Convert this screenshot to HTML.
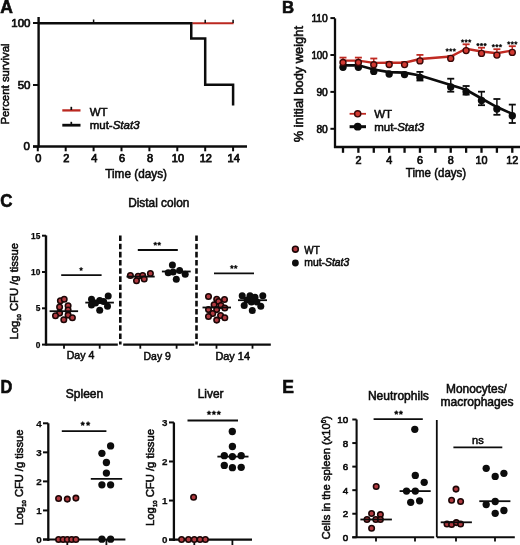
<!DOCTYPE html>
<html><head><meta charset="utf-8"><style>
html,body{margin:0;padding:0;background:#fff;}
body{width:520px;height:545px;overflow:hidden;}
svg{display:block;font-family:"Liberation Sans", sans-serif;will-change:transform;}
</style></head><body>
<svg width="520" height="545" viewBox="0 0 520 545">
<rect width="520" height="545" fill="#fff"/>
<text x="0.3" y="12.8" font-size="17.5" text-anchor="start" font-weight="bold" fill="#0c0c0c" stroke="#0c0c0c" stroke-width="0.6" >A</text>
<line x1="38.6" y1="17" x2="38.6" y2="147.5" stroke="#0c0c0c" stroke-width="2.4" />
<line x1="33" y1="23" x2="38.6" y2="23" stroke="#0c0c0c" stroke-width="2" />
<line x1="33" y1="85" x2="38.6" y2="85" stroke="#0c0c0c" stroke-width="2" />
<line x1="33" y1="146.5" x2="38.6" y2="146.5" stroke="#0c0c0c" stroke-width="2" />
<text x="30.5" y="27.2" font-size="11.5" text-anchor="end" font-weight="normal" fill="#0c0c0c" stroke="#0c0c0c" stroke-width="0.7" >100</text>
<text x="30.5" y="89" font-size="11.5" text-anchor="end" font-weight="normal" fill="#0c0c0c" stroke="#0c0c0c" stroke-width="0.7" >50</text>
<text x="30" y="150.3" font-size="11.5" text-anchor="end" font-weight="normal" fill="#0c0c0c" stroke="#0c0c0c" stroke-width="0.7" >0</text>
<line x1="33" y1="146.5" x2="247" y2="146.5" stroke="#0c0c0c" stroke-width="2.4" />
<line x1="37.8" y1="146.5" x2="37.8" y2="151.3" stroke="#0c0c0c" stroke-width="2" />
<text x="38.4" y="161.6" font-size="11" text-anchor="middle" font-weight="normal" fill="#0c0c0c" stroke="#0c0c0c" stroke-width="0.75" >0</text>
<line x1="65.69999999999999" y1="146.5" x2="65.69999999999999" y2="151.3" stroke="#0c0c0c" stroke-width="2" />
<text x="66.29999999999998" y="161.6" font-size="11" text-anchor="middle" font-weight="normal" fill="#0c0c0c" stroke="#0c0c0c" stroke-width="0.75" >2</text>
<line x1="93.6" y1="146.5" x2="93.6" y2="151.3" stroke="#0c0c0c" stroke-width="2" />
<text x="94.19999999999999" y="161.6" font-size="11" text-anchor="middle" font-weight="normal" fill="#0c0c0c" stroke="#0c0c0c" stroke-width="0.75" >4</text>
<line x1="121.49999999999999" y1="146.5" x2="121.49999999999999" y2="151.3" stroke="#0c0c0c" stroke-width="2" />
<text x="122.09999999999998" y="161.6" font-size="11" text-anchor="middle" font-weight="normal" fill="#0c0c0c" stroke="#0c0c0c" stroke-width="0.75" >6</text>
<line x1="149.39999999999998" y1="146.5" x2="149.39999999999998" y2="151.3" stroke="#0c0c0c" stroke-width="2" />
<text x="149.99999999999997" y="161.6" font-size="11" text-anchor="middle" font-weight="normal" fill="#0c0c0c" stroke="#0c0c0c" stroke-width="0.75" >8</text>
<line x1="177.3" y1="146.5" x2="177.3" y2="151.3" stroke="#0c0c0c" stroke-width="2" />
<text x="177.9" y="161.6" font-size="11" text-anchor="middle" font-weight="normal" fill="#0c0c0c" stroke="#0c0c0c" stroke-width="0.75" >10</text>
<line x1="205.2" y1="146.5" x2="205.2" y2="151.3" stroke="#0c0c0c" stroke-width="2" />
<text x="205.79999999999998" y="161.6" font-size="11" text-anchor="middle" font-weight="normal" fill="#0c0c0c" stroke="#0c0c0c" stroke-width="0.75" >12</text>
<line x1="233.09999999999997" y1="146.5" x2="233.09999999999997" y2="151.3" stroke="#0c0c0c" stroke-width="2" />
<text x="233.69999999999996" y="161.6" font-size="11" text-anchor="middle" font-weight="normal" fill="#0c0c0c" stroke="#0c0c0c" stroke-width="0.75" >14</text>
<text x="136.1" y="178.3" font-size="12" text-anchor="middle" font-weight="normal" fill="#0c0c0c" stroke="#0c0c0c" stroke-width="0.55" textLength="61.8" lengthAdjust="spacingAndGlyphs" >Time (days)</text>
<text transform="translate(8.7,84) rotate(-90)" x="0" y="0" font-size="11.3" text-anchor="middle" font-weight="normal" fill="#0c0c0c" stroke="#0c0c0c" stroke-width="0.55" textLength="81.2" lengthAdjust="spacingAndGlyphs">Percent survival</text>
<polyline points="38.6,23.2 191.25,23.2" fill="none" stroke="#0c0c0c" stroke-width="2.4" stroke-linejoin="miter" />
<polyline points="192.25,23.2 233.59999999999997,23.2" fill="none" stroke="#bb2820" stroke-width="2.1" stroke-linejoin="miter" />
<polyline points="191.25,21.9 191.25,38.4 205.2,38.4 205.2,84.8 233.09999999999997,84.8 233.09999999999997,105.5" fill="none" stroke="#0c0c0c" stroke-width="2.5" stroke-linejoin="miter" />
<line x1="93.6" y1="19.5" x2="93.6" y2="23" stroke="#0c0c0c" stroke-width="1.5" />
<line x1="205.2" y1="19.8" x2="205.2" y2="23" stroke="#0c0c0c" stroke-width="1.5" />
<line x1="233.09999999999997" y1="19.8" x2="233.09999999999997" y2="23" stroke="#0c0c0c" stroke-width="1.5" />
<line x1="62.3" y1="110.4" x2="80.5" y2="110.4" stroke="#bb2820" stroke-width="2.3" />
<line x1="71.3" y1="106.8" x2="71.3" y2="110" stroke="#0c0c0c" stroke-width="1.7" />
<line x1="62.3" y1="125.2" x2="80.5" y2="125.2" stroke="#0c0c0c" stroke-width="2.8" />
<line x1="71.3" y1="121.8" x2="71.3" y2="125" stroke="#0c0c0c" stroke-width="1.7" />
<text x="89.7" y="116.1" font-size="11.5" text-anchor="start" font-weight="normal" fill="#0c0c0c" stroke="#0c0c0c" stroke-width="0.55" >WT</text>
<text x="89.7" y="129.2" font-size="11.5" text-anchor="start" font-weight="normal" fill="#0c0c0c" stroke="#0c0c0c" stroke-width="0.55" >mut-<tspan font-style="italic">Stat3</tspan></text>
<text x="282" y="13.3" font-size="16.8" text-anchor="start" font-weight="bold" fill="#0c0c0c" stroke="#0c0c0c" stroke-width="0.6" >B</text>
<line x1="335" y1="18.4" x2="335" y2="148" stroke="#0c0c0c" stroke-width="2.3" />
<line x1="330.4" y1="18.1" x2="335" y2="18.1" stroke="#0c0c0c" stroke-width="2" />
<text x="327.8" y="21.900000000000002" font-size="10.7" text-anchor="end" font-weight="normal" fill="#0c0c0c" stroke="#0c0c0c" stroke-width="0.65" textLength="16.4" lengthAdjust="spacingAndGlyphs" >110</text>
<line x1="330.4" y1="55.0" x2="335" y2="55.0" stroke="#0c0c0c" stroke-width="2" />
<text x="327.8" y="58.8" font-size="10.7" text-anchor="end" font-weight="normal" fill="#0c0c0c" stroke="#0c0c0c" stroke-width="0.65" textLength="16.4" lengthAdjust="spacingAndGlyphs" >100</text>
<line x1="330.4" y1="91.9" x2="335" y2="91.9" stroke="#0c0c0c" stroke-width="2" />
<text x="327.8" y="95.7" font-size="10.7" text-anchor="end" font-weight="normal" fill="#0c0c0c" stroke="#0c0c0c" stroke-width="0.65" textLength="11.4" lengthAdjust="spacingAndGlyphs" >90</text>
<line x1="330.4" y1="128.8" x2="335" y2="128.8" stroke="#0c0c0c" stroke-width="2" />
<text x="327.8" y="132.60000000000002" font-size="10.7" text-anchor="end" font-weight="normal" fill="#0c0c0c" stroke="#0c0c0c" stroke-width="0.65" textLength="11.4" lengthAdjust="spacingAndGlyphs" >80</text>
<line x1="334" y1="147" x2="520" y2="147" stroke="#0c0c0c" stroke-width="2.3" />
<line x1="343.0" y1="147" x2="343.0" y2="152.8" stroke="#0c0c0c" stroke-width="2.3" />
<line x1="358.39" y1="147" x2="358.39" y2="152.8" stroke="#0c0c0c" stroke-width="2.3" />
<line x1="373.78" y1="147" x2="373.78" y2="152.8" stroke="#0c0c0c" stroke-width="2.3" />
<line x1="389.17" y1="147" x2="389.17" y2="152.8" stroke="#0c0c0c" stroke-width="2.3" />
<line x1="404.56" y1="147" x2="404.56" y2="152.8" stroke="#0c0c0c" stroke-width="2.3" />
<line x1="419.95" y1="147" x2="419.95" y2="152.8" stroke="#0c0c0c" stroke-width="2.3" />
<line x1="435.34000000000003" y1="147" x2="435.34000000000003" y2="152.8" stroke="#0c0c0c" stroke-width="2.3" />
<line x1="450.73" y1="147" x2="450.73" y2="152.8" stroke="#0c0c0c" stroke-width="2.3" />
<line x1="466.12" y1="147" x2="466.12" y2="152.8" stroke="#0c0c0c" stroke-width="2.3" />
<line x1="481.51" y1="147" x2="481.51" y2="152.8" stroke="#0c0c0c" stroke-width="2.3" />
<line x1="496.9" y1="147" x2="496.9" y2="152.8" stroke="#0c0c0c" stroke-width="2.3" />
<line x1="512.29" y1="147" x2="512.29" y2="152.8" stroke="#0c0c0c" stroke-width="2.3" />
<text x="358.39" y="164.1" font-size="10.8" text-anchor="middle" font-weight="normal" fill="#0c0c0c" stroke="#0c0c0c" stroke-width="0.7" >2</text>
<text x="389.17" y="164.1" font-size="10.8" text-anchor="middle" font-weight="normal" fill="#0c0c0c" stroke="#0c0c0c" stroke-width="0.7" >4</text>
<text x="419.95" y="164.1" font-size="10.8" text-anchor="middle" font-weight="normal" fill="#0c0c0c" stroke="#0c0c0c" stroke-width="0.7" >6</text>
<text x="450.73" y="164.1" font-size="10.8" text-anchor="middle" font-weight="normal" fill="#0c0c0c" stroke="#0c0c0c" stroke-width="0.7" >8</text>
<text x="481.51" y="164.1" font-size="10.8" text-anchor="middle" font-weight="normal" fill="#0c0c0c" stroke="#0c0c0c" stroke-width="0.7" >10</text>
<text x="512.29" y="164.1" font-size="10.8" text-anchor="middle" font-weight="normal" fill="#0c0c0c" stroke="#0c0c0c" stroke-width="0.7" >12</text>
<text x="436" y="176.9" font-size="12" text-anchor="middle" font-weight="normal" fill="#0c0c0c" stroke="#0c0c0c" stroke-width="0.55" textLength="60.3" lengthAdjust="spacingAndGlyphs" >Time (days)</text>
<text transform="translate(302.6,84.2) rotate(-90)" x="0" y="0" font-size="12.3" text-anchor="middle" font-weight="normal" fill="#0c0c0c" stroke="#0c0c0c" stroke-width="0.55" textLength="116.3" lengthAdjust="spacingAndGlyphs">% initial body weight</text>
<line x1="419.95" y1="71.9" x2="419.95" y2="80.5" stroke="#0c0c0c" stroke-width="1.5" />
<line x1="416.45" y1="71.9" x2="423.45" y2="71.9" stroke="#0c0c0c" stroke-width="1.8" />
<line x1="416.45" y1="80.5" x2="423.45" y2="80.5" stroke="#0c0c0c" stroke-width="1.8" />
<line x1="450.73" y1="78.7" x2="450.73" y2="91.7" stroke="#0c0c0c" stroke-width="1.5" />
<line x1="447.23" y1="78.7" x2="454.23" y2="78.7" stroke="#0c0c0c" stroke-width="1.8" />
<line x1="447.23" y1="91.7" x2="454.23" y2="91.7" stroke="#0c0c0c" stroke-width="1.8" />
<line x1="466.12" y1="86" x2="466.12" y2="94.6" stroke="#0c0c0c" stroke-width="1.5" />
<line x1="462.62" y1="86" x2="469.62" y2="86" stroke="#0c0c0c" stroke-width="1.8" />
<line x1="462.62" y1="94.6" x2="469.62" y2="94.6" stroke="#0c0c0c" stroke-width="1.8" />
<line x1="481.51" y1="91.7" x2="481.51" y2="105.2" stroke="#0c0c0c" stroke-width="1.5" />
<line x1="478.01" y1="91.7" x2="485.01" y2="91.7" stroke="#0c0c0c" stroke-width="1.8" />
<line x1="478.01" y1="105.2" x2="485.01" y2="105.2" stroke="#0c0c0c" stroke-width="1.8" />
<line x1="496.9" y1="99" x2="496.9" y2="114.8" stroke="#0c0c0c" stroke-width="1.5" />
<line x1="493.4" y1="99" x2="500.4" y2="99" stroke="#0c0c0c" stroke-width="1.8" />
<line x1="493.4" y1="114.8" x2="500.4" y2="114.8" stroke="#0c0c0c" stroke-width="1.8" />
<line x1="512.29" y1="104.6" x2="512.29" y2="123" stroke="#0c0c0c" stroke-width="1.5" />
<line x1="508.78999999999996" y1="104.6" x2="515.79" y2="104.6" stroke="#0c0c0c" stroke-width="1.8" />
<line x1="508.78999999999996" y1="123" x2="515.79" y2="123" stroke="#0c0c0c" stroke-width="1.8" />
<polyline points="343.0,65.3 358.39,65.3 373.78,69.5 389.17,72.1 404.56,72.69999999999999 419.95,75.5 450.73,85.0 466.12,89.8 481.51,98.5 496.9,107.1 512.29,113.89999999999999" fill="none" stroke="#0c0c0c" stroke-width="2.7" stroke-linejoin="miter" />
<circle cx="343.0" cy="67.2" r="3.7" fill="#0c0c0c"/>
<circle cx="358.39" cy="67.2" r="3.7" fill="#0c0c0c"/>
<circle cx="373.78" cy="71.4" r="3.7" fill="#0c0c0c"/>
<circle cx="389.17" cy="74" r="3.7" fill="#0c0c0c"/>
<circle cx="404.56" cy="74.6" r="3.7" fill="#0c0c0c"/>
<circle cx="419.95" cy="77.4" r="3.7" fill="#0c0c0c"/>
<circle cx="450.73" cy="86.9" r="3.7" fill="#0c0c0c"/>
<circle cx="466.12" cy="91.7" r="3.7" fill="#0c0c0c"/>
<circle cx="481.51" cy="100.4" r="3.7" fill="#0c0c0c"/>
<circle cx="496.9" cy="109" r="3.7" fill="#0c0c0c"/>
<circle cx="512.29" cy="115.8" r="3.7" fill="#0c0c0c"/>
<line x1="343.0" y1="57.6" x2="343.0" y2="62.5" stroke="#c02a22" stroke-width="1.5" />
<line x1="339.5" y1="57.6" x2="346.5" y2="57.6" stroke="#c02a22" stroke-width="1.8" />
<line x1="358.39" y1="57.6" x2="358.39" y2="62.5" stroke="#c02a22" stroke-width="1.5" />
<line x1="354.89" y1="57.6" x2="361.89" y2="57.6" stroke="#c02a22" stroke-width="1.8" />
<line x1="373.78" y1="58.5" x2="373.78" y2="64.8" stroke="#c02a22" stroke-width="1.5" />
<line x1="370.28" y1="58.5" x2="377.28" y2="58.5" stroke="#c02a22" stroke-width="1.8" />
<line x1="389.17" y1="62" x2="389.17" y2="64.5" stroke="#c02a22" stroke-width="1.5" />
<line x1="385.67" y1="62" x2="392.67" y2="62" stroke="#c02a22" stroke-width="1.8" />
<line x1="404.56" y1="62" x2="404.56" y2="64.6" stroke="#c02a22" stroke-width="1.5" />
<line x1="401.06" y1="62" x2="408.06" y2="62" stroke="#c02a22" stroke-width="1.8" />
<line x1="419.95" y1="54.9" x2="419.95" y2="60.9" stroke="#c02a22" stroke-width="1.5" />
<line x1="416.45" y1="54.9" x2="423.45" y2="54.9" stroke="#c02a22" stroke-width="1.8" />
<line x1="450.73" y1="56" x2="450.73" y2="58.4" stroke="#c02a22" stroke-width="1.5" />
<line x1="447.23" y1="56" x2="454.23" y2="56" stroke="#c02a22" stroke-width="1.8" />
<line x1="466.12" y1="44.3" x2="466.12" y2="50.6" stroke="#c02a22" stroke-width="1.5" />
<line x1="462.62" y1="44.3" x2="469.62" y2="44.3" stroke="#c02a22" stroke-width="1.8" />
<line x1="481.51" y1="47.7" x2="481.51" y2="53.4" stroke="#c02a22" stroke-width="1.5" />
<line x1="478.01" y1="47.7" x2="485.01" y2="47.7" stroke="#c02a22" stroke-width="1.8" />
<line x1="496.9" y1="49.2" x2="496.9" y2="55.1" stroke="#c02a22" stroke-width="1.5" />
<line x1="493.4" y1="49.2" x2="500.4" y2="49.2" stroke="#c02a22" stroke-width="1.8" />
<line x1="512.29" y1="46.2" x2="512.29" y2="52.4" stroke="#c02a22" stroke-width="1.5" />
<line x1="508.78999999999996" y1="46.2" x2="515.79" y2="46.2" stroke="#c02a22" stroke-width="1.8" />
<polyline points="343.0,60.6 358.39,60.6 373.78,62.9 389.17,62.6 404.56,62.699999999999996 419.95,59.0 450.73,56.5 466.12,48.7 481.51,51.5 496.9,53.2 512.29,50.5" fill="none" stroke="#c02a22" stroke-width="2.4" stroke-linejoin="miter" />
<circle cx="343.0" cy="62.5" r="3.0" fill="#d23a32" stroke="#3a0808" stroke-width="1.4"/>
<circle cx="358.39" cy="62.5" r="3.0" fill="#d23a32" stroke="#3a0808" stroke-width="1.4"/>
<circle cx="373.78" cy="64.8" r="3.0" fill="#d23a32" stroke="#3a0808" stroke-width="1.4"/>
<circle cx="389.17" cy="64.5" r="3.0" fill="#d23a32" stroke="#3a0808" stroke-width="1.4"/>
<circle cx="404.56" cy="64.6" r="3.0" fill="#d23a32" stroke="#3a0808" stroke-width="1.4"/>
<circle cx="419.95" cy="60.9" r="3.0" fill="#d23a32" stroke="#3a0808" stroke-width="1.4"/>
<circle cx="450.73" cy="58.4" r="3.0" fill="#d23a32" stroke="#3a0808" stroke-width="1.4"/>
<circle cx="466.12" cy="50.6" r="3.0" fill="#d23a32" stroke="#3a0808" stroke-width="1.4"/>
<circle cx="481.51" cy="53.4" r="3.0" fill="#d23a32" stroke="#3a0808" stroke-width="1.4"/>
<circle cx="496.9" cy="55.1" r="3.0" fill="#d23a32" stroke="#3a0808" stroke-width="1.4"/>
<circle cx="512.29" cy="52.4" r="3.0" fill="#d23a32" stroke="#3a0808" stroke-width="1.4"/>
<polygon points="447.18,48.40 447.74,49.22 448.70,49.51 448.09,50.30 448.12,51.29 447.18,50.96 446.24,51.29 446.27,50.30 445.66,49.51 446.62,49.22" fill="#0c0c0c" stroke="#0c0c0c" stroke-width="0.5" stroke-linejoin="round"/>
<polygon points="450.73,48.40 451.29,49.22 452.25,49.51 451.64,50.30 451.67,51.29 450.73,50.96 449.79,51.29 449.82,50.30 449.21,49.51 450.17,49.22" fill="#0c0c0c" stroke="#0c0c0c" stroke-width="0.5" stroke-linejoin="round"/>
<polygon points="454.28,48.40 454.84,49.22 455.80,49.51 455.19,50.30 455.22,51.29 454.28,50.96 453.34,51.29 453.37,50.30 452.76,49.51 453.72,49.22" fill="#0c0c0c" stroke="#0c0c0c" stroke-width="0.5" stroke-linejoin="round"/>
<polygon points="462.57,39.40 463.13,40.22 464.09,40.51 463.48,41.30 463.51,42.29 462.57,41.96 461.63,42.29 461.66,41.30 461.05,40.51 462.01,40.22" fill="#0c0c0c" stroke="#0c0c0c" stroke-width="0.5" stroke-linejoin="round"/>
<polygon points="466.12,39.40 466.68,40.22 467.64,40.51 467.03,41.30 467.06,42.29 466.12,41.96 465.18,42.29 465.21,41.30 464.60,40.51 465.56,40.22" fill="#0c0c0c" stroke="#0c0c0c" stroke-width="0.5" stroke-linejoin="round"/>
<polygon points="469.67,39.40 470.23,40.22 471.19,40.51 470.58,41.30 470.61,42.29 469.67,41.96 468.73,42.29 468.76,41.30 468.15,40.51 469.11,40.22" fill="#0c0c0c" stroke="#0c0c0c" stroke-width="0.5" stroke-linejoin="round"/>
<polygon points="477.96,43.00 478.52,43.82 479.48,44.11 478.87,44.90 478.90,45.89 477.96,45.56 477.02,45.89 477.05,44.90 476.44,44.11 477.40,43.82" fill="#0c0c0c" stroke="#0c0c0c" stroke-width="0.5" stroke-linejoin="round"/>
<polygon points="481.51,43.00 482.07,43.82 483.03,44.11 482.42,44.90 482.45,45.89 481.51,45.56 480.57,45.89 480.60,44.90 479.99,44.11 480.95,43.82" fill="#0c0c0c" stroke="#0c0c0c" stroke-width="0.5" stroke-linejoin="round"/>
<polygon points="485.06,43.00 485.62,43.82 486.58,44.11 485.97,44.90 486.00,45.89 485.06,45.56 484.12,45.89 484.15,44.90 483.54,44.11 484.50,43.82" fill="#0c0c0c" stroke="#0c0c0c" stroke-width="0.5" stroke-linejoin="round"/>
<polygon points="493.35,44.20 493.91,45.02 494.87,45.31 494.26,46.10 494.29,47.09 493.35,46.76 492.41,47.09 492.44,46.10 491.83,45.31 492.79,45.02" fill="#0c0c0c" stroke="#0c0c0c" stroke-width="0.5" stroke-linejoin="round"/>
<polygon points="496.90,44.20 497.46,45.02 498.42,45.31 497.81,46.10 497.84,47.09 496.90,46.76 495.96,47.09 495.99,46.10 495.38,45.31 496.34,45.02" fill="#0c0c0c" stroke="#0c0c0c" stroke-width="0.5" stroke-linejoin="round"/>
<polygon points="500.45,44.20 501.01,45.02 501.97,45.31 501.36,46.10 501.39,47.09 500.45,46.76 499.51,47.09 499.54,46.10 498.93,45.31 499.89,45.02" fill="#0c0c0c" stroke="#0c0c0c" stroke-width="0.5" stroke-linejoin="round"/>
<polygon points="508.74,41.40 509.30,42.22 510.26,42.51 509.65,43.30 509.68,44.29 508.74,43.96 507.80,44.29 507.83,43.30 507.22,42.51 508.18,42.22" fill="#0c0c0c" stroke="#0c0c0c" stroke-width="0.5" stroke-linejoin="round"/>
<polygon points="512.29,41.40 512.85,42.22 513.81,42.51 513.20,43.30 513.23,44.29 512.29,43.96 511.35,44.29 511.38,43.30 510.77,42.51 511.73,42.22" fill="#0c0c0c" stroke="#0c0c0c" stroke-width="0.5" stroke-linejoin="round"/>
<polygon points="515.84,41.40 516.40,42.22 517.36,42.51 516.75,43.30 516.78,44.29 515.84,43.96 514.90,44.29 514.93,43.30 514.32,42.51 515.28,42.22" fill="#0c0c0c" stroke="#0c0c0c" stroke-width="0.5" stroke-linejoin="round"/>
<line x1="349.6" y1="113.8" x2="366" y2="113.8" stroke="#c02a22" stroke-width="1.8" />
<circle cx="357.7" cy="113.8" r="3.1" fill="#d23a32" stroke="#3a0808" stroke-width="1.4"/>
<line x1="349.6" y1="126.7" x2="366" y2="126.7" stroke="#0c0c0c" stroke-width="3" />
<circle cx="357.7" cy="126.7" r="3.9" fill="#0c0c0c"/>
<text x="374.2" y="117.9" font-size="11.5" text-anchor="start" font-weight="normal" fill="#0c0c0c" stroke="#0c0c0c" stroke-width="0.55" >WT</text>
<text x="374.2" y="130.8" font-size="11.5" text-anchor="start" font-weight="normal" fill="#0c0c0c" stroke="#0c0c0c" stroke-width="0.55" >mut-<tspan font-style="italic">Stat3</tspan></text>
<text x="0.2" y="206.7" font-size="17.8" text-anchor="start" font-weight="bold" fill="#0c0c0c" stroke="#0c0c0c" stroke-width="0.6" textLength="12.2" lengthAdjust="spacingAndGlyphs" >C</text>
<text x="128.2" y="206.6" font-size="12" text-anchor="start" font-weight="normal" fill="#0c0c0c" stroke="#0c0c0c" stroke-width="0.55" textLength="61.2" lengthAdjust="spacingAndGlyphs" >Distal colon</text>
<line x1="46" y1="235.4" x2="46" y2="345.5" stroke="#0c0c0c" stroke-width="2.4" />
<line x1="42" y1="235.70000000000005" x2="46" y2="235.70000000000005" stroke="#0c0c0c" stroke-width="2" />
<text x="40.3" y="238.80000000000004" font-size="8.3" text-anchor="end" font-weight="bold" fill="#0c0c0c" stroke="#0c0c0c" stroke-width="0.25" >15</text>
<line x1="42" y1="272.0" x2="46" y2="272.0" stroke="#0c0c0c" stroke-width="2" />
<text x="40.3" y="275.1" font-size="8.3" text-anchor="end" font-weight="bold" fill="#0c0c0c" stroke="#0c0c0c" stroke-width="0.25" >10</text>
<line x1="42" y1="308.3" x2="46" y2="308.3" stroke="#0c0c0c" stroke-width="2" />
<text x="40.3" y="311.40000000000003" font-size="8.3" text-anchor="end" font-weight="bold" fill="#0c0c0c" stroke="#0c0c0c" stroke-width="0.25" >5</text>
<line x1="42" y1="344.6" x2="46" y2="344.6" stroke="#0c0c0c" stroke-width="2" />
<text x="40.3" y="347.70000000000005" font-size="8.3" text-anchor="end" font-weight="bold" fill="#0c0c0c" stroke="#0c0c0c" stroke-width="0.25" >0</text>
<line x1="46" y1="344.6" x2="117.8" y2="344.6" stroke="#0c0c0c" stroke-width="2.2" />
<line x1="123.2" y1="344.6" x2="194.3" y2="344.6" stroke="#0c0c0c" stroke-width="2.2" />
<line x1="199" y1="344.6" x2="270.8" y2="344.6" stroke="#0c0c0c" stroke-width="2.2" />
<line x1="120.3" y1="235.5" x2="120.3" y2="344.6" stroke="#0c0c0c" stroke-width="2.6" stroke-dasharray="5.6,2.56"/>
<line x1="196.5" y1="235.5" x2="196.5" y2="344.6" stroke="#0c0c0c" stroke-width="2.6" stroke-dasharray="5.6,2.56"/>
<line x1="64" y1="344.6" x2="64" y2="348.7" stroke="#0c0c0c" stroke-width="1.8" />
<line x1="99.7" y1="344.6" x2="99.7" y2="348.7" stroke="#0c0c0c" stroke-width="1.8" />
<line x1="140.3" y1="344.6" x2="140.3" y2="348.7" stroke="#0c0c0c" stroke-width="1.8" />
<line x1="176.6" y1="344.6" x2="176.6" y2="348.7" stroke="#0c0c0c" stroke-width="1.8" />
<line x1="216.5" y1="344.6" x2="216.5" y2="348.7" stroke="#0c0c0c" stroke-width="1.8" />
<line x1="252.5" y1="344.6" x2="252.5" y2="348.7" stroke="#0c0c0c" stroke-width="1.8" />
<text x="80.5" y="359.3" font-size="11" text-anchor="middle" font-weight="normal" fill="#0c0c0c" stroke="#0c0c0c" stroke-width="0.55" textLength="27.6" lengthAdjust="spacingAndGlyphs" >Day 4</text>
<text x="157.2" y="359.5" font-size="11" text-anchor="middle" font-weight="normal" fill="#0c0c0c" stroke="#0c0c0c" stroke-width="0.55" textLength="27.2" lengthAdjust="spacingAndGlyphs" >Day 9</text>
<text x="232.7" y="360.3" font-size="11" text-anchor="middle" font-weight="normal" fill="#0c0c0c" stroke="#0c0c0c" stroke-width="0.55" textLength="34.6" lengthAdjust="spacingAndGlyphs" >Day 14</text>
<line x1="61.2" y1="275.2" x2="101.6" y2="275.2" stroke="#0c0c0c" stroke-width="1.8" />
<polygon points="81.10,267.30 81.68,268.30 82.81,268.54 82.04,269.41 82.16,270.56 81.10,270.09 80.04,270.56 80.16,269.41 79.39,268.54 80.52,268.30" fill="#0c0c0c" stroke="#0c0c0c" stroke-width="0.5" stroke-linejoin="round"/>
<line x1="137.8" y1="250" x2="177.8" y2="250" stroke="#0c0c0c" stroke-width="1.8" />
<polygon points="155.30,241.90 155.91,242.95 157.11,243.21 156.29,244.12 156.42,245.34 155.30,244.84 154.18,245.34 154.31,244.12 153.49,243.21 154.69,242.95" fill="#0c0c0c" stroke="#0c0c0c" stroke-width="0.5" stroke-linejoin="round"/>
<polygon points="159.20,241.90 159.81,242.95 161.01,243.21 160.19,244.12 160.32,245.34 159.20,244.84 158.08,245.34 158.21,244.12 157.39,243.21 158.59,242.95" fill="#0c0c0c" stroke="#0c0c0c" stroke-width="0.5" stroke-linejoin="round"/>
<line x1="214" y1="273.3" x2="254" y2="273.3" stroke="#0c0c0c" stroke-width="1.8" />
<polygon points="231.90,265.10 232.51,266.15 233.71,266.41 232.89,267.32 233.02,268.54 231.90,268.05 230.78,268.54 230.91,267.32 230.09,266.41 231.29,266.15" fill="#0c0c0c" stroke="#0c0c0c" stroke-width="0.5" stroke-linejoin="round"/>
<polygon points="235.70,265.10 236.31,266.15 237.51,266.41 236.69,267.32 236.82,268.54 235.70,268.05 234.58,268.54 234.71,267.32 233.89,266.41 235.09,266.15" fill="#0c0c0c" stroke="#0c0c0c" stroke-width="0.5" stroke-linejoin="round"/>
<circle cx="60.4" cy="300.8" r="2.75" fill="#b03a40" stroke="#1c0606" stroke-width="1.55"/>
<circle cx="64.2" cy="299.2" r="2.75" fill="#b03a40" stroke="#1c0606" stroke-width="1.55"/>
<circle cx="59.6" cy="306.9" r="2.75" fill="#b03a40" stroke="#1c0606" stroke-width="1.55"/>
<circle cx="68.1" cy="305.8" r="2.75" fill="#b03a40" stroke="#1c0606" stroke-width="1.55"/>
<circle cx="68.1" cy="310" r="2.75" fill="#b03a40" stroke="#1c0606" stroke-width="1.55"/>
<circle cx="59.6" cy="313.1" r="2.75" fill="#b03a40" stroke="#1c0606" stroke-width="1.55"/>
<circle cx="55.5" cy="315.7" r="2.75" fill="#b03a40" stroke="#1c0606" stroke-width="1.55"/>
<circle cx="68.1" cy="315.1" r="2.75" fill="#b03a40" stroke="#1c0606" stroke-width="1.55"/>
<circle cx="63.8" cy="319.7" r="2.75" fill="#b03a40" stroke="#1c0606" stroke-width="1.55"/>
<circle cx="72.4" cy="317.7" r="2.75" fill="#b03a40" stroke="#1c0606" stroke-width="1.55"/>
<line x1="49.6" y1="311.2" x2="78.1" y2="311.2" stroke="#0c0c0c" stroke-width="1.8" />
<circle cx="130.4" cy="275.4" r="2.75" fill="#b03a40" stroke="#1c0606" stroke-width="1.55"/>
<circle cx="138.1" cy="276.2" r="2.75" fill="#b03a40" stroke="#1c0606" stroke-width="1.55"/>
<circle cx="142.7" cy="275.4" r="2.75" fill="#b03a40" stroke="#1c0606" stroke-width="1.55"/>
<circle cx="150.4" cy="273.5" r="2.75" fill="#b03a40" stroke="#1c0606" stroke-width="1.55"/>
<circle cx="136.5" cy="280.8" r="2.75" fill="#b03a40" stroke="#1c0606" stroke-width="1.55"/>
<circle cx="144.2" cy="278.9" r="2.75" fill="#b03a40" stroke="#1c0606" stroke-width="1.55"/>
<line x1="126.5" y1="276.6" x2="154.7" y2="276.6" stroke="#0c0c0c" stroke-width="1.8" />
<circle cx="208.5" cy="296.5" r="2.75" fill="#b03a40" stroke="#1c0606" stroke-width="1.55"/>
<circle cx="216.7" cy="299.2" r="2.75" fill="#b03a40" stroke="#1c0606" stroke-width="1.55"/>
<circle cx="224.5" cy="299.5" r="2.75" fill="#b03a40" stroke="#1c0606" stroke-width="1.55"/>
<circle cx="218.6" cy="301.4" r="2.75" fill="#b03a40" stroke="#1c0606" stroke-width="1.55"/>
<circle cx="214.1" cy="304.7" r="2.75" fill="#b03a40" stroke="#1c0606" stroke-width="1.55"/>
<circle cx="220.9" cy="305.4" r="2.75" fill="#b03a40" stroke="#1c0606" stroke-width="1.55"/>
<circle cx="208.5" cy="309.6" r="2.75" fill="#b03a40" stroke="#1c0606" stroke-width="1.55"/>
<circle cx="216.7" cy="309.6" r="2.75" fill="#b03a40" stroke="#1c0606" stroke-width="1.55"/>
<circle cx="224.8" cy="308" r="2.75" fill="#b03a40" stroke="#1c0606" stroke-width="1.55"/>
<circle cx="212.7" cy="313.5" r="2.75" fill="#b03a40" stroke="#1c0606" stroke-width="1.55"/>
<circle cx="208.5" cy="316.5" r="2.75" fill="#b03a40" stroke="#1c0606" stroke-width="1.55"/>
<circle cx="220.6" cy="315.5" r="2.75" fill="#b03a40" stroke="#1c0606" stroke-width="1.55"/>
<circle cx="224.8" cy="317.8" r="2.75" fill="#b03a40" stroke="#1c0606" stroke-width="1.55"/>
<circle cx="216.7" cy="320.1" r="2.75" fill="#b03a40" stroke="#1c0606" stroke-width="1.55"/>
<line x1="202.5" y1="307.5" x2="231" y2="307.5" stroke="#0c0c0c" stroke-width="1.8" />
<circle cx="108.2" cy="295.9" r="3.5" fill="#0c0c0c"/>
<circle cx="91.5" cy="299.2" r="3.5" fill="#0c0c0c"/>
<circle cx="99.7" cy="300.5" r="3.5" fill="#0c0c0c"/>
<circle cx="103.6" cy="301.4" r="3.5" fill="#0c0c0c"/>
<circle cx="91.5" cy="305" r="3.5" fill="#0c0c0c"/>
<circle cx="95.5" cy="303" r="3.5" fill="#0c0c0c"/>
<circle cx="107.5" cy="306.3" r="3.5" fill="#0c0c0c"/>
<circle cx="99.7" cy="310.3" r="3.5" fill="#0c0c0c"/>
<line x1="85.3" y1="302.6" x2="113.9" y2="302.6" stroke="#0c0c0c" stroke-width="1.8" />
<circle cx="172.4" cy="264.9" r="3.5" fill="#0c0c0c"/>
<circle cx="168.2" cy="272.7" r="3.5" fill="#0c0c0c"/>
<circle cx="173.1" cy="272.1" r="3.5" fill="#0c0c0c"/>
<circle cx="179.6" cy="270.6" r="3.5" fill="#0c0c0c"/>
<circle cx="185.2" cy="274.3" r="3.5" fill="#0c0c0c"/>
<circle cx="176.3" cy="279.2" r="3.5" fill="#0c0c0c"/>
<line x1="161.9" y1="271.5" x2="190.7" y2="271.5" stroke="#0c0c0c" stroke-width="1.8" />
<circle cx="242.2" cy="295.8" r="3.5" fill="#0c0c0c"/>
<circle cx="250" cy="295.8" r="3.5" fill="#0c0c0c"/>
<circle cx="255" cy="297.2" r="3.5" fill="#0c0c0c"/>
<circle cx="262.8" cy="295.8" r="3.5" fill="#0c0c0c"/>
<circle cx="244.2" cy="305.6" r="3.5" fill="#0c0c0c"/>
<circle cx="251.4" cy="302" r="3.5" fill="#0c0c0c"/>
<circle cx="256.9" cy="302" r="3.5" fill="#0c0c0c"/>
<circle cx="260.8" cy="306.3" r="3.5" fill="#0c0c0c"/>
<circle cx="252.3" cy="310.5" r="3.5" fill="#0c0c0c"/>
<circle cx="247" cy="300" r="3.5" fill="#0c0c0c"/>
<line x1="238" y1="300.2" x2="267" y2="300.2" stroke="#0c0c0c" stroke-width="1.8" />
<text transform="translate(18.3,291.3) rotate(-90)" x="0" y="0" font-size="11" text-anchor="middle" font-weight="normal" fill="#0c0c0c" stroke="#0c0c0c" stroke-width="0.55" textLength="96.6" lengthAdjust="spacingAndGlyphs">Log<tspan font-size="5.8" dy="2.6">10</tspan><tspan dy="-2.6"> CFU /g tissue</tspan></text>
<circle cx="295.4" cy="249.2" r="2.9" fill="#b03a40" stroke="#1c0606" stroke-width="1.55"/>
<circle cx="295.4" cy="263" r="3.4" fill="#0c0c0c"/>
<text x="304.3" y="253.6" font-size="10.5" text-anchor="start" font-weight="normal" fill="#0c0c0c" stroke="#0c0c0c" stroke-width="0.55" textLength="15.4" lengthAdjust="spacingAndGlyphs" >WT</text>
<text x="304.3" y="265.6" font-size="10.5" text-anchor="start" font-weight="normal" fill="#0c0c0c" stroke="#0c0c0c" stroke-width="0.55" textLength="45" lengthAdjust="spacingAndGlyphs" >mut-<tspan font-style="italic">Stat3</tspan></text>
<text x="0.5" y="392.8" font-size="17.5" text-anchor="start" font-weight="bold" fill="#0c0c0c" stroke="#0c0c0c" stroke-width="0.6" textLength="11.8" lengthAdjust="spacingAndGlyphs" >D</text>
<text x="65.8" y="398.2" font-size="12" text-anchor="start" font-weight="normal" fill="#0c0c0c" stroke="#0c0c0c" stroke-width="0.55" textLength="37.4" lengthAdjust="spacingAndGlyphs" >Spleen</text>
<text x="197.7" y="398.3" font-size="12" text-anchor="start" font-weight="normal" fill="#0c0c0c" stroke="#0c0c0c" stroke-width="0.55" textLength="25.8" lengthAdjust="spacingAndGlyphs" >Liver</text>
<line x1="48.3" y1="423.3" x2="48.3" y2="541" stroke="#0c0c0c" stroke-width="2.3" />
<line x1="43" y1="539.5" x2="48.3" y2="539.5" stroke="#0c0c0c" stroke-width="2" />
<text x="41.7" y="543.1" font-size="9.8" text-anchor="end" font-weight="bold" fill="#0c0c0c" stroke="#0c0c0c" stroke-width="0.25" >0</text>
<line x1="43" y1="510.45" x2="48.3" y2="510.45" stroke="#0c0c0c" stroke-width="2" />
<text x="41.7" y="514.05" font-size="9.8" text-anchor="end" font-weight="bold" fill="#0c0c0c" stroke="#0c0c0c" stroke-width="0.25" >1</text>
<line x1="43" y1="481.4" x2="48.3" y2="481.4" stroke="#0c0c0c" stroke-width="2" />
<text x="41.7" y="485.0" font-size="9.8" text-anchor="end" font-weight="bold" fill="#0c0c0c" stroke="#0c0c0c" stroke-width="0.25" >2</text>
<line x1="43" y1="452.35" x2="48.3" y2="452.35" stroke="#0c0c0c" stroke-width="2" />
<text x="41.7" y="455.95000000000005" font-size="9.8" text-anchor="end" font-weight="bold" fill="#0c0c0c" stroke="#0c0c0c" stroke-width="0.25" >3</text>
<line x1="43" y1="423.3" x2="48.3" y2="423.3" stroke="#0c0c0c" stroke-width="2" />
<text x="41.7" y="426.90000000000003" font-size="9.8" text-anchor="end" font-weight="bold" fill="#0c0c0c" stroke="#0c0c0c" stroke-width="0.25" >4</text>
<line x1="43" y1="539.5" x2="125.4" y2="539.5" stroke="#0c0c0c" stroke-width="2.2" />
<line x1="67.3" y1="539.5" x2="67.3" y2="545" stroke="#0c0c0c" stroke-width="1.8" />
<line x1="106.4" y1="539.5" x2="106.4" y2="545" stroke="#0c0c0c" stroke-width="1.8" />
<line x1="61.8" y1="431.1" x2="106.4" y2="431.1" stroke="#0c0c0c" stroke-width="1.8" />
<polygon points="82.70,421.50 83.41,422.72 84.79,423.02 83.85,424.07 83.99,425.48 82.70,424.91 81.41,425.48 81.55,424.07 80.61,423.02 81.99,422.72" fill="#0c0c0c" stroke="#0c0c0c" stroke-width="0.5" stroke-linejoin="round"/>
<polygon points="88.10,421.50 88.81,422.72 90.19,423.02 89.25,424.07 89.39,425.48 88.10,424.91 86.81,425.48 86.95,424.07 86.01,423.02 87.39,422.72" fill="#0c0c0c" stroke="#0c0c0c" stroke-width="0.5" stroke-linejoin="round"/>
<circle cx="58.6" cy="498.4" r="2.75" fill="#b03a40" stroke="#1c0606" stroke-width="1.55"/>
<circle cx="67.3" cy="499.1" r="2.75" fill="#b03a40" stroke="#1c0606" stroke-width="1.55"/>
<circle cx="75.9" cy="498.1" r="2.75" fill="#b03a40" stroke="#1c0606" stroke-width="1.55"/>
<circle cx="58.6" cy="539.5" r="2.75" fill="#b03a40" stroke="#1c0606" stroke-width="1.55"/>
<circle cx="63.1" cy="539.5" r="2.75" fill="#b03a40" stroke="#1c0606" stroke-width="1.55"/>
<circle cx="67.3" cy="539.5" r="2.75" fill="#b03a40" stroke="#1c0606" stroke-width="1.55"/>
<circle cx="71.7" cy="539.5" r="2.75" fill="#b03a40" stroke="#1c0606" stroke-width="1.55"/>
<circle cx="75.9" cy="539.5" r="2.75" fill="#b03a40" stroke="#1c0606" stroke-width="1.55"/>
<circle cx="110.6" cy="445.9" r="3.65" fill="#0c0c0c"/>
<circle cx="101.9" cy="453.3" r="3.65" fill="#0c0c0c"/>
<circle cx="106.4" cy="462.5" r="3.65" fill="#0c0c0c"/>
<circle cx="106.4" cy="473.1" r="3.65" fill="#0c0c0c"/>
<circle cx="101.9" cy="484.8" r="3.65" fill="#0c0c0c"/>
<circle cx="110.6" cy="484.8" r="3.65" fill="#0c0c0c"/>
<circle cx="101.9" cy="539.2" r="3.65" fill="#0c0c0c"/>
<circle cx="110.6" cy="539.2" r="3.65" fill="#0c0c0c"/>
<line x1="90.8" y1="478.8" x2="122.2" y2="478.8" stroke="#0c0c0c" stroke-width="1.8" />
<text transform="translate(23,477.5) rotate(-90)" x="0" y="0" font-size="11" text-anchor="middle" font-weight="normal" fill="#0c0c0c" stroke="#0c0c0c" stroke-width="0.55" textLength="95.7" lengthAdjust="spacingAndGlyphs">Log<tspan font-size="5.8" dy="2.6">10</tspan><tspan dy="-2.6"> CFU /g tissue</tspan></text>
<line x1="173.9" y1="422.45000000000005" x2="173.9" y2="541" stroke="#0c0c0c" stroke-width="2.3" />
<line x1="169" y1="539.6" x2="173.9" y2="539.6" stroke="#0c0c0c" stroke-width="2" />
<text x="167.4" y="543.2" font-size="9.8" text-anchor="end" font-weight="bold" fill="#0c0c0c" stroke="#0c0c0c" stroke-width="0.25" >0</text>
<line x1="169" y1="500.55" x2="173.9" y2="500.55" stroke="#0c0c0c" stroke-width="2" />
<text x="167.4" y="504.15000000000003" font-size="9.8" text-anchor="end" font-weight="bold" fill="#0c0c0c" stroke="#0c0c0c" stroke-width="0.25" >1</text>
<line x1="169" y1="461.5" x2="173.9" y2="461.5" stroke="#0c0c0c" stroke-width="2" />
<text x="167.4" y="465.1" font-size="9.8" text-anchor="end" font-weight="bold" fill="#0c0c0c" stroke="#0c0c0c" stroke-width="0.25" >2</text>
<line x1="169" y1="422.45000000000005" x2="173.9" y2="422.45000000000005" stroke="#0c0c0c" stroke-width="2" />
<text x="167.4" y="426.05000000000007" font-size="9.8" text-anchor="end" font-weight="bold" fill="#0c0c0c" stroke="#0c0c0c" stroke-width="0.25" >3</text>
<line x1="169" y1="539.6" x2="252" y2="539.6" stroke="#0c0c0c" stroke-width="2.2" />
<line x1="194.3" y1="539.6" x2="194.3" y2="545" stroke="#0c0c0c" stroke-width="1.8" />
<line x1="232.4" y1="539.6" x2="232.4" y2="545" stroke="#0c0c0c" stroke-width="1.8" />
<line x1="187.5" y1="420.5" x2="238" y2="420.5" stroke="#0c0c0c" stroke-width="1.8" />
<polygon points="209.00,410.70 209.71,411.92 211.09,412.22 210.15,413.27 210.29,414.68 209.00,414.11 207.71,414.68 207.85,413.27 206.91,412.22 208.29,411.92" fill="#0c0c0c" stroke="#0c0c0c" stroke-width="0.5" stroke-linejoin="round"/>
<polygon points="213.90,410.70 214.61,411.92 215.99,412.22 215.05,413.27 215.19,414.68 213.90,414.11 212.61,414.68 212.75,413.27 211.81,412.22 213.19,411.92" fill="#0c0c0c" stroke="#0c0c0c" stroke-width="0.5" stroke-linejoin="round"/>
<polygon points="218.80,410.70 219.51,411.92 220.89,412.22 219.95,413.27 220.09,414.68 218.80,414.11 217.51,414.68 217.65,413.27 216.71,412.22 218.09,411.92" fill="#0c0c0c" stroke="#0c0c0c" stroke-width="0.5" stroke-linejoin="round"/>
<circle cx="193.6" cy="497.3" r="2.75" fill="#b03a40" stroke="#1c0606" stroke-width="1.55"/>
<circle cx="181.6" cy="539.5" r="2.75" fill="#b03a40" stroke="#1c0606" stroke-width="1.55"/>
<circle cx="188.5" cy="539.5" r="2.75" fill="#b03a40" stroke="#1c0606" stroke-width="1.55"/>
<circle cx="194.3" cy="539.5" r="2.75" fill="#b03a40" stroke="#1c0606" stroke-width="1.55"/>
<circle cx="200" cy="539.5" r="2.75" fill="#b03a40" stroke="#1c0606" stroke-width="1.55"/>
<circle cx="205.4" cy="539.5" r="2.75" fill="#b03a40" stroke="#1c0606" stroke-width="1.55"/>
<circle cx="232.3" cy="431.5" r="3.65" fill="#0c0c0c"/>
<circle cx="232.4" cy="446.5" r="3.65" fill="#0c0c0c"/>
<circle cx="224.3" cy="455.7" r="3.65" fill="#0c0c0c"/>
<circle cx="232.4" cy="456.6" r="3.65" fill="#0c0c0c"/>
<circle cx="241.2" cy="455.7" r="3.65" fill="#0c0c0c"/>
<circle cx="224.3" cy="465.4" r="3.65" fill="#0c0c0c"/>
<circle cx="232.4" cy="467.7" r="3.65" fill="#0c0c0c"/>
<circle cx="241.2" cy="467.3" r="3.65" fill="#0c0c0c"/>
<line x1="217.4" y1="456.6" x2="248.5" y2="456.6" stroke="#0c0c0c" stroke-width="1.8" />
<text transform="translate(154.1,477.5) rotate(-90)" x="0" y="0" font-size="11" text-anchor="middle" font-weight="normal" fill="#0c0c0c" stroke="#0c0c0c" stroke-width="0.55" textLength="96.9" lengthAdjust="spacingAndGlyphs">Log<tspan font-size="5.8" dy="2.6">10</tspan><tspan dy="-2.6"> CFU /g tissue</tspan></text>
<text x="282.2" y="392.6" font-size="17.5" text-anchor="start" font-weight="bold" fill="#0c0c0c" stroke="#0c0c0c" stroke-width="0.6" >E</text>
<text x="367.9" y="399.7" font-size="12" text-anchor="start" font-weight="normal" fill="#0c0c0c" stroke="#0c0c0c" stroke-width="0.55" textLength="61" lengthAdjust="spacingAndGlyphs" >Neutrophils</text>
<text x="446.1" y="392.9" font-size="12" text-anchor="start" font-weight="normal" fill="#0c0c0c" stroke="#0c0c0c" stroke-width="0.55" textLength="60.8" lengthAdjust="spacingAndGlyphs" >Monocytes/</text>
<text x="440.5" y="406.2" font-size="12" text-anchor="start" font-weight="normal" fill="#0c0c0c" stroke="#0c0c0c" stroke-width="0.55" textLength="73" lengthAdjust="spacingAndGlyphs" >macrophages</text>
<line x1="356.6" y1="419.5" x2="356.6" y2="538" stroke="#0c0c0c" stroke-width="2.1" />
<line x1="352.3" y1="537.3" x2="356.6" y2="537.3" stroke="#0c0c0c" stroke-width="2" />
<text x="348.2" y="541.0" font-size="9.8" text-anchor="end" font-weight="normal" fill="#0c0c0c" stroke="#0c0c0c" stroke-width="0.6" >0</text>
<line x1="352.3" y1="513.74" x2="356.6" y2="513.74" stroke="#0c0c0c" stroke-width="2" />
<text x="348.2" y="517.44" font-size="9.8" text-anchor="end" font-weight="normal" fill="#0c0c0c" stroke="#0c0c0c" stroke-width="0.6" >2</text>
<line x1="352.3" y1="490.17999999999995" x2="356.6" y2="490.17999999999995" stroke="#0c0c0c" stroke-width="2" />
<text x="348.2" y="493.87999999999994" font-size="9.8" text-anchor="end" font-weight="normal" fill="#0c0c0c" stroke="#0c0c0c" stroke-width="0.6" >4</text>
<line x1="352.3" y1="466.61999999999995" x2="356.6" y2="466.61999999999995" stroke="#0c0c0c" stroke-width="2" />
<text x="348.2" y="470.31999999999994" font-size="9.8" text-anchor="end" font-weight="normal" fill="#0c0c0c" stroke="#0c0c0c" stroke-width="0.6" >6</text>
<line x1="352.3" y1="443.05999999999995" x2="356.6" y2="443.05999999999995" stroke="#0c0c0c" stroke-width="2" />
<text x="348.2" y="446.75999999999993" font-size="9.8" text-anchor="end" font-weight="normal" fill="#0c0c0c" stroke="#0c0c0c" stroke-width="0.6" >8</text>
<line x1="352.3" y1="419.49999999999994" x2="356.6" y2="419.49999999999994" stroke="#0c0c0c" stroke-width="2" />
<text x="348.2" y="423.19999999999993" font-size="9.8" text-anchor="end" font-weight="normal" fill="#0c0c0c" stroke="#0c0c0c" stroke-width="0.6" >10</text>
<line x1="352.3" y1="537.2" x2="434.2" y2="537.2" stroke="#0c0c0c" stroke-width="2.1" />
<line x1="376" y1="537.2" x2="376" y2="541.5" stroke="#0c0c0c" stroke-width="1.8" />
<line x1="415" y1="537.2" x2="415" y2="541.5" stroke="#0c0c0c" stroke-width="1.8" />
<line x1="436.8" y1="420" x2="436.8" y2="537.2" stroke="#0c0c0c" stroke-width="1.8" />
<line x1="436.8" y1="537.2" x2="514.8" y2="537.2" stroke="#0c0c0c" stroke-width="2.1" />
<line x1="456" y1="537.2" x2="456" y2="541.5" stroke="#0c0c0c" stroke-width="1.8" />
<line x1="495" y1="537.2" x2="495" y2="541.5" stroke="#0c0c0c" stroke-width="1.8" />
<line x1="373.6" y1="419.2" x2="422.8" y2="419.2" stroke="#0c0c0c" stroke-width="1.8" />
<polygon points="396.30,410.60 396.98,411.77 398.30,412.05 397.40,413.06 397.53,414.40 396.30,413.85 395.07,414.40 395.20,413.06 394.30,412.05 395.62,411.77" fill="#0c0c0c" stroke="#0c0c0c" stroke-width="0.5" stroke-linejoin="round"/>
<polygon points="400.90,410.60 401.58,411.77 402.90,412.05 402.00,413.06 402.13,414.40 400.90,413.85 399.67,414.40 399.80,413.06 398.90,412.05 400.22,411.77" fill="#0c0c0c" stroke="#0c0c0c" stroke-width="0.5" stroke-linejoin="round"/>
<line x1="453.4" y1="447.3" x2="502.3" y2="447.3" stroke="#0c0c0c" stroke-width="1.8" />
<text x="477.9" y="443.9" font-size="11" text-anchor="middle" font-weight="normal" fill="#0c0c0c" stroke="#0c0c0c" stroke-width="0.55" >ns</text>
<circle cx="376.2" cy="486.5" r="2.75" fill="#b03a40" stroke="#1c0606" stroke-width="1.55"/>
<circle cx="371.6" cy="513.5" r="2.75" fill="#b03a40" stroke="#1c0606" stroke-width="1.55"/>
<circle cx="380.4" cy="514.6" r="2.75" fill="#b03a40" stroke="#1c0606" stroke-width="1.55"/>
<circle cx="367" cy="519.5" r="2.75" fill="#b03a40" stroke="#1c0606" stroke-width="1.55"/>
<circle cx="375.8" cy="519.5" r="2.75" fill="#b03a40" stroke="#1c0606" stroke-width="1.55"/>
<circle cx="380.4" cy="519.5" r="2.75" fill="#b03a40" stroke="#1c0606" stroke-width="1.55"/>
<circle cx="371.6" cy="528.2" r="2.75" fill="#b03a40" stroke="#1c0606" stroke-width="1.55"/>
<line x1="360.4" y1="519.5" x2="391.9" y2="519.5" stroke="#0c0c0c" stroke-width="1.8" />
<circle cx="414.8" cy="429.3" r="3.65" fill="#0c0c0c"/>
<circle cx="415.3" cy="475.4" r="3.65" fill="#0c0c0c"/>
<circle cx="424.2" cy="482.3" r="3.65" fill="#0c0c0c"/>
<circle cx="406.5" cy="491.1" r="3.65" fill="#0c0c0c"/>
<circle cx="415.3" cy="491.1" r="3.65" fill="#0c0c0c"/>
<circle cx="410.7" cy="502.3" r="3.65" fill="#0c0c0c"/>
<circle cx="419.6" cy="500.8" r="3.65" fill="#0c0c0c"/>
<line x1="399.6" y1="491.1" x2="430.7" y2="491.1" stroke="#0c0c0c" stroke-width="1.8" />
<circle cx="456" cy="489.1" r="2.75" fill="#b03a40" stroke="#1c0606" stroke-width="1.55"/>
<circle cx="451.6" cy="500.3" r="2.75" fill="#b03a40" stroke="#1c0606" stroke-width="1.55"/>
<circle cx="460.6" cy="501.5" r="2.75" fill="#b03a40" stroke="#1c0606" stroke-width="1.55"/>
<circle cx="447" cy="524" r="2.75" fill="#b03a40" stroke="#1c0606" stroke-width="1.55"/>
<circle cx="451.6" cy="524.5" r="2.75" fill="#b03a40" stroke="#1c0606" stroke-width="1.55"/>
<circle cx="456.3" cy="522.6" r="2.75" fill="#b03a40" stroke="#1c0606" stroke-width="1.55"/>
<circle cx="460.6" cy="524" r="2.75" fill="#b03a40" stroke="#1c0606" stroke-width="1.55"/>
<line x1="440.7" y1="522.3" x2="471.9" y2="522.3" stroke="#0c0c0c" stroke-width="1.8" />
<circle cx="486.2" cy="468.3" r="3.65" fill="#0c0c0c"/>
<circle cx="495.2" cy="476.4" r="3.65" fill="#0c0c0c"/>
<circle cx="503.9" cy="473.3" r="3.65" fill="#0c0c0c"/>
<circle cx="486.2" cy="504.6" r="3.65" fill="#0c0c0c"/>
<circle cx="495.2" cy="501.5" r="3.65" fill="#0c0c0c"/>
<circle cx="495.2" cy="513.3" r="3.65" fill="#0c0c0c"/>
<circle cx="503.9" cy="510.5" r="3.65" fill="#0c0c0c"/>
<line x1="479.3" y1="501.2" x2="510.4" y2="501.2" stroke="#0c0c0c" stroke-width="1.8" />
<text transform="translate(329.9,477.8) rotate(-90)" x="0" y="0" font-size="11.6" text-anchor="middle" font-weight="normal" fill="#0c0c0c" stroke="#0c0c0c" stroke-width="0.55" textLength="123.6" lengthAdjust="spacingAndGlyphs">Cells in the spleen (x10<tspan font-size="6.5" dy="-4.3">6</tspan><tspan dy="4.3">)</tspan></text>
</svg>
</body></html>
